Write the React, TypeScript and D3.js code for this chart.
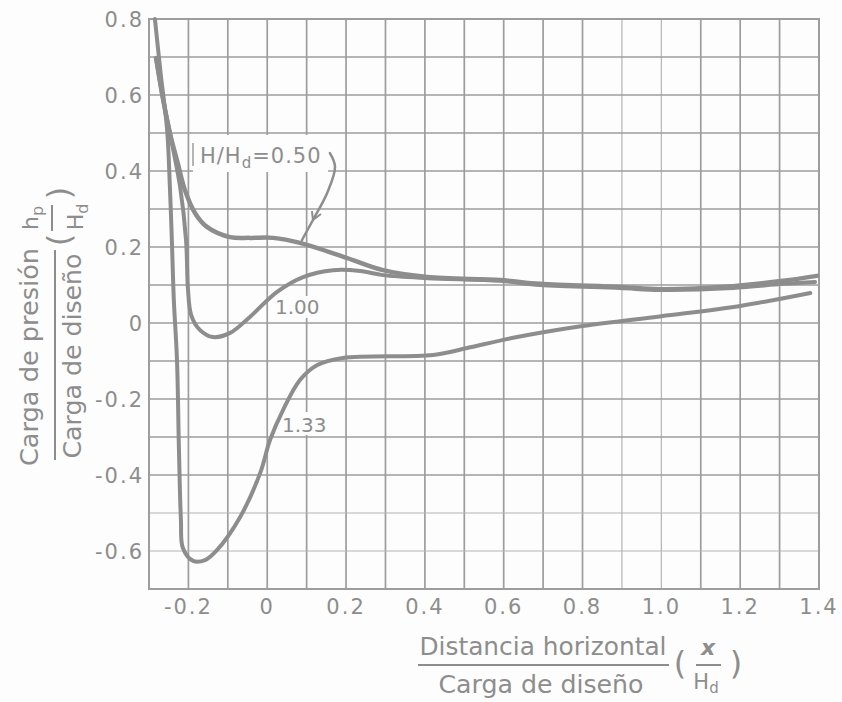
import React from "react";
import * as d3 from "d3";

// ---- data ----
const xTickValues = [-0.2, 0, 0.2, 0.4, 0.6, 0.8, 1.0, 1.2, 1.4];
const xTickLabels = ["-0.2", "0", "0.2", "0.4", "0.6", "0.8", "1.0", "1.2", "1.4"];
const yTickValues = [0.8, 0.6, 0.4, 0.2, 0, -0.2, -0.4, -0.6];
const yTickLabels = ["0.8", "0.6", "0.4", "0.2", "0", "-0.2", "-0.4", "-0.6"];

const seriesNames = ["H/Hd=0.50", "1.00", "1.33"];

const x050 = [-0.282, -0.264, -0.247, -0.226, -0.209, -0.183, -0.153, -0.094, -0.044, 0.015, 0.083, 0.203, 0.294, 0.406, 0.591, 0.692, 0.895, 0.997, 1.182, 1.309, 1.395];
const y050 = [0.697, 0.587, 0.5, 0.416, 0.35, 0.289, 0.253, 0.226, 0.224, 0.224, 0.211, 0.171, 0.139, 0.121, 0.113, 0.103, 0.095, 0.089, 0.097, 0.111, 0.124];

const x100 = [-0.282, -0.264, -0.247, -0.221, -0.206, -0.201, -0.193, -0.171, -0.138, -0.094, -0.044, 0.025, 0.091, 0.167, 0.236, 0.294, 0.406, 0.591, 0.692, 0.895, 0.997, 1.182, 1.309, 1.39];
const y100 = [0.697, 0.587, 0.5, 0.358, 0.218, 0.087, 0.021, -0.018, -0.037, -0.026, 0.016, 0.082, 0.121, 0.139, 0.137, 0.126, 0.118, 0.111, 0.1, 0.092, 0.087, 0.092, 0.103, 0.108];

const x133 = [-0.285, -0.27, -0.254, -0.247, -0.242, -0.237, -0.229, -0.224, -0.219, -0.214, -0.188, -0.158, -0.127, -0.069, -0.018, 0.007, 0.04, 0.083, 0.126, 0.192, 0.421, 0.507, 0.624, 0.8, 1.0, 1.2, 1.378];
const y133 = [0.8, 0.653, 0.508, 0.358, 0.218, 0.061, -0.097, -0.334, -0.518, -0.592, -0.626, -0.624, -0.597, -0.511, -0.395, -0.308, -0.229, -0.15, -0.111, -0.092, -0.084, -0.066, -0.039, -0.008, 0.018, 0.045, 0.079];

// leader (arrow) from the 0.50 label to its curve
const leaderX = [0.159, 0.172, 0.152, 0.116, 0.088];
const leaderY = [0.447, 0.411, 0.342, 0.271, 0.218];

const W = 842;
const H = 702;

const INK = "#8d8d8d";
const GRID = "#9d9d9d";
const FONT = "'DejaVu Sans', sans-serif";

export default function App() {
  const x = d3.scaleLinear().domain([-0.3, 1.4]).range([149, 819]);
  const y = d3.scaleLinear().domain([-0.7, 0.8]).range([589, 19]);

  const gridX = d3.range(-3, 15).map((v) => v / 10);
  const gridY = d3.range(-7, 9).map((v) => v / 10);

  const line = d3
    .line<[number, number]>()
    .x((d) => x(d[0]))
    .y((d) => y(d[1]))
    .curve(d3.curveCatmullRom.alpha(0.5));

  const s050 = x050.map((v, i) => [v, y050[i]] as [number, number]);
  const s100 = x100.map((v, i) => [v, y100[i]] as [number, number]);
  const s133 = x133.map((v, i) => [v, y133[i]] as [number, number]);
  const leader = leaderX.map((v, i) => [v, leaderY[i]] as [number, number]);

  const isLight = (v: number) => Math.abs(v - 0.9) < 1e-6 || Math.abs(v - 1.0) < 1e-6;
  const isLightY = (v: number) => Math.abs(v + 0.5) < 1e-6 || Math.abs(v + 0.6) < 1e-6;

  // arrowhead position (on leader)
  const ah = [x(0.116), y(0.271)];

  return (
    <svg
      width={W}
      height={H}
      style={{ position: "absolute", left: 0, top: 0, background: "#fdfdfd" }}
      fontFamily={FONT}
    >
      <rect x={0} y={0} width={W} height={H} fill="#fdfdfd" />
      {/* grid */}
      {gridX.map((v) => (
        <line
          key={"gx" + v}
          x1={x(v)}
          x2={x(v)}
          y1={y(0.8)}
          y2={y(-0.7)}
          stroke={isLight(v) ? "#b4b4b4" : GRID}
          strokeWidth={isLight(v) ? 1.2 : 1.7}
        />
      ))}
      {gridY.map((v) => (
        <line
          key={"gy" + v}
          x1={x(-0.3)}
          x2={x(1.4)}
          y1={y(v)}
          y2={y(v)}
          stroke={isLightY(v) ? "#b4b4b4" : GRID}
          strokeWidth={isLightY(v) ? 1.2 : 1.7}
        />
      ))}
      <rect
        x={x(-0.3)}
        y={y(0.8)}
        width={x(1.4) - x(-0.3)}
        height={y(-0.7) - y(0.8)}
        fill="none"
        stroke={GRID}
        strokeWidth={2}
      />

      {/* label patches that hide grid */}
      <rect x={193} y={135} width={135} height={37} fill="#fdfdfd" />
      <line x1={193} x2={193} y1={143} y2={166} stroke={GRID} strokeWidth={1.5} />
      <rect x={272} y={296} width={52} height={22} fill="#fdfdfd" />
      <rect x={280} y={412} width={48} height={23} fill="#fdfdfd" />

      {/* curves */}
      <path d={line(s133) || ""} fill="none" stroke={INK} strokeWidth={4} strokeLinecap="round" strokeLinejoin="round" />
      <path d={line(s100) || ""} fill="none" stroke={INK} strokeWidth={4} strokeLinecap="round" strokeLinejoin="round" />
      <path d={line(s050) || ""} fill="none" stroke={INK} strokeWidth={4.5} strokeLinecap="round" strokeLinejoin="round" />

      {/* leader */}
      <path d={line(leader) || ""} fill="none" stroke={INK} strokeWidth={2.5} strokeLinecap="round" />
      <path
        d={`M${ah[0] - 1},${ah[1] - 9} L${ah[0]},${ah[1]} L${ah[0] + 8},${ah[1] - 6}`}
        fill="none"
        stroke={INK}
        strokeWidth={2}
      />

      {/* curve labels */}
      <text x={200} y={163} fontSize={21} fill={INK} letterSpacing={1}>
        H/H
        <tspan fontSize={15} dy={5}>d</tspan>
        <tspan dy={-5}>=0.50</tspan>
      </text>
      <text x={275} y={314} fontSize={20} fill={INK}>{seriesNames[1]}</text>
      <text x={282} y={432} fontSize={20} fill={INK}>{seriesNames[2]}</text>

      {/* y ticks */}
      {yTickValues.map((v, i) => (
        <text
          key={"yt" + v}
          x={144}
          y={y(v)}
          dy="0.36em"
          textAnchor="end"
          fontSize={21}
          fill={INK}
          letterSpacing={2}
        >
          {yTickLabels[i]}
        </text>
      ))}
      {/* x ticks */}
      {xTickValues.map((v, i) => (
        <text
          key={"xt" + v}
          x={x(v)}
          y={614}
          textAnchor="middle"
          fontSize={21}
          fill={INK}
          letterSpacing={2}
        >
          {xTickLabels[i]}
        </text>
      ))}

      {/* x title */}
      <text x={543} y={655} textAnchor="middle" fontSize={24} fill={INK} textLength={247} lengthAdjust="spacingAndGlyphs">
        Distancia horizontal
      </text>
      <line x1={418} x2={669} y1={665} y2={665} stroke={INK} strokeWidth={2} />
      <text x={541} y={693} textAnchor="middle" fontSize={24} fill={INK} textLength={205} lengthAdjust="spacingAndGlyphs">
        Carga de diseño
      </text>
      <text x={680} y={674} textAnchor="middle" fontSize={32} fill={INK}>(</text>
      <text x={708} y={655} textAnchor="middle" fontSize={22} fill={INK} fontStyle="italic" fontWeight="bold">x</text>
      <line x1={696} x2={721} y1={665} y2={665} stroke={INK} strokeWidth={2} />
      <text x={706} y={689} textAnchor="middle" fontSize={21} fill={INK}>
        H<tspan fontSize={15} dy={4}>d</tspan>
      </text>
      <text x={736} y={674} textAnchor="middle" fontSize={32} fill={INK}>)</text>

      {/* y title (rotated) */}
      <text x={38} y={357} transform="rotate(-90 38 357)" textAnchor="middle" fontSize={24} fill={INK} textLength={218} lengthAdjust="spacingAndGlyphs">
        Carga de presión
      </text>
      <line x1={55} x2={55} y1={250} y2={460} stroke={INK} strokeWidth={2} />
      <text x={81} y={356} transform="rotate(-90 81 356)" textAnchor="middle" fontSize={24} fill={INK} textLength={205} lengthAdjust="spacingAndGlyphs">
        Carga de diseño
      </text>
      <text x={38} y={218} transform="rotate(-90 38 218)" textAnchor="middle" fontSize={22} fill={INK}>
        h<tspan fontSize={16} dy={5}>p</tspan>
      </text>
      <line x1={52} x2={52} y1={205} y2={231} stroke={INK} strokeWidth={2} />
      <text x={83} y={217} transform="rotate(-90 83 217)" textAnchor="middle" fontSize={22} fill={INK}>
        H<tspan fontSize={16} dy={5}>d</tspan>
      </text>
      <text x={70} y={240} transform="rotate(-90 70 240)" textAnchor="middle" fontSize={32} fill={INK}>(</text>
      <text x={70} y={193} transform="rotate(-90 70 193)" textAnchor="middle" fontSize={32} fill={INK}>)</text>
    </svg>
  );
}
